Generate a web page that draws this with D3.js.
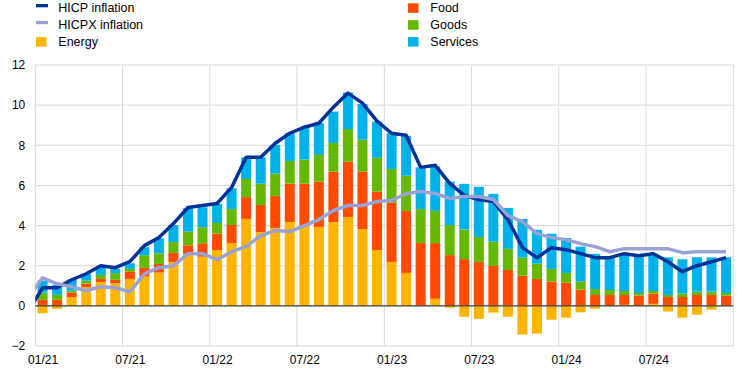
<!DOCTYPE html>
<html lang="en">
<head>
    <meta charset="UTF-8">
    <title>HICP inflation and contributions</title>
    <script src="https://cdn.jsdelivr.net/npm/d3@7"></script>
    <style>
        body { margin: 0; background: #fff; }
        svg { display: block; font-family: "Liberation Sans", Arial, sans-serif; }
        .tick text { font-size: 12px; fill: #000; }
        .legend text { font-size: 12.5px; fill: #000; }
    </style>
</head>
<body>
<div class="chart"></div>

<script type="text/javascript">
    // month labels (01/21 .. 12/24)
    var months = ["01/21","02/21","03/21","04/21","05/21","06/21","07/21","08/21","09/21","10/21","11/21","12/21",
                  "01/22","02/22","03/22","04/22","05/22","06/22","07/22","08/22","09/22","10/22","11/22","12/22",
                  "01/23","02/23","03/23","04/23","05/23","06/23","07/23","08/23","09/23","10/23","11/23","12/23",
                  "01/24","02/24","03/24","04/24","05/24","06/24","07/24","08/24","09/24","10/24","11/24","12/24"];
    var tickLabels = ["01/21","07/21","01/22","07/22","01/23","07/23","01/24","07/24"];
    var yTicks = [-2, 0, 2, 4, 6, 8, 10, 12];

    // contributions (percentage points)
    var energy = [-0.37,-0.14,0.44,0.93,1.19,1.13,1.34,1.46,1.66,2.19,2.59,2.45,
                  2.78,3.13,4.33,3.68,3.88,4.18,3.95,3.93,4.18,4.43,3.83,2.78,
                  2.19,1.64,0,0.35,-0.09,-0.54,-0.65,-0.34,-0.54,-1.43,-1.38,-0.69,
                  -0.59,-0.32,-0.14,0,0.05,0,0.1,-0.28,-0.59,-0.44,-0.19,0];
    var food = [0.3,0.3,0.22,0.18,0.15,0.17,0.36,0.43,0.43,0.45,0.43,0.67,
                0.82,0.9,1.09,1.35,1.6,1.91,2.14,2.26,2.51,2.75,2.86,2.91,
                2.95,3.09,3.13,2.78,2.53,2.33,2.19,1.99,1.79,1.51,1.34,1.21,
                1.16,0.81,0.54,0.54,0.49,0.51,0.51,0.44,0.44,0.54,0.54,0.51];
    var goods = [0.36,0.25,0.1,0.15,0.2,0.33,0.14,0.63,0.53,0.54,0.68,0.8,
                 0.53,0.8,0.9,1.06,1.11,1.13,1.2,1.33,1.42,1.63,1.59,1.69,
                 1.68,1.76,1.7,1.6,1.5,1.47,1.24,1.21,1.05,0.9,0.77,0.63,
                 0.48,0.4,0.3,0.25,0.2,0.13,0.13,0.1,0.17,0.17,0.17,0.13];
    var services = [0.6,0.5,0.54,0.34,0.4,0.22,0.28,0.4,0.75,0.85,1.16,0.99,
                    0.95,1.03,1.08,1.31,1.43,1.38,1.56,1.58,1.57,1.82,1.78,1.8,
                    1.78,1.98,2.07,2.21,2.16,2.28,2.5,2.38,2.04,1.92,1.68,1.75,
                    1.74,1.74,1.75,1.6,1.85,1.85,1.75,1.88,1.71,1.71,1.71,1.78];

    // headline and core rates (annual % change); lines start from 12/20, clipped at the axis
    var prevMonth = "12/20";
    var hicpPrev = -0.3, hicpxPrev = 0.4;
    var hicp = [0.9,0.9,1.3,1.6,2.0,1.9,2.2,3.0,3.4,4.1,4.9,5.0,
                5.1,5.9,7.4,7.4,8.1,8.6,8.9,9.1,9.9,10.6,10.1,9.2,
                8.6,8.5,6.9,7.0,6.1,5.5,5.3,5.2,4.3,2.9,2.4,2.9,
                2.8,2.6,2.4,2.4,2.6,2.5,2.6,2.2,1.7,2.0,2.2,2.4];
    var hicpx = [1.4,1.1,0.95,0.75,0.95,0.9,0.7,1.6,1.9,2.0,2.6,2.6,
                 2.3,2.7,2.95,3.5,3.75,3.7,4.0,4.3,4.75,5.0,5.0,5.2,
                 5.25,5.6,5.7,5.6,5.35,5.45,5.45,5.3,4.5,4.2,3.6,3.4,
                 3.3,3.1,2.95,2.7,2.85,2.85,2.85,2.85,2.65,2.7,2.7,2.7];

    var keys = ["energy", "food", "goods", "services"];
    var colors = {energy: "#ffb400", food: "#ff4b00", goods: "#65b800", services: "#00b1ea"};

    var w = 744, h = 373;
    var plotL = 35.3, plotR = 733.3, plotT = 65, plotB = 346;

    var svg = d3.select('.chart').append('svg')
            .attr('width', w)
            .attr('height', h);

    // index based scale so the 12/20 point can sit at -1
    var x = d3.scaleLinear().domain([-0.5, months.length - 0.5]).range([plotL, plotR]);
    var y = d3.scaleLinear().domain([-2, 12]).range([plotB, plotT]);
    var barW = 10;

    // grid
    svg.append('g').selectAll('line')
            .data(yTicks)
            .enter().append('line')
            .attr('x1', plotL).attr('x2', plotR)
            .attr('y1', function(d) { return y(d); })
            .attr('y2', function(d) { return y(d); })
            .attr('stroke', '#d9d9d9').attr('stroke-width', 1);

    var vLines = d3.range(0, months.length + 1, 6);
    svg.append('g').selectAll('line')
            .data(vLines)
            .enter().append('line')
            .attr('x1', function(d) { return x(d - 0.5); })
            .attr('x2', function(d) { return x(d - 0.5); })
            .attr('y1', plotT).attr('y2', plotB)
            .attr('stroke', '#d9d9d9').attr('stroke-width', 1);

    // y axis labels
    var yAxis = svg.append('g')
            .attr('transform', 'translate(' + plotL + ',0)')
            .call(d3.axisLeft(y).tickValues(yTicks).tickSize(0).tickPadding(10).tickFormat(d3.format('d')));
    yAxis.select('.domain').remove();

    // x axis labels
    var xAxis = svg.append('g')
            .attr('transform', 'translate(0,' + plotB + ')')
            .call(d3.axisBottom(x)
                .tickValues(tickLabels.map(function(t) { return months.indexOf(t); }))
                .tickSize(0).tickPadding(9)
                .tickFormat(function(i) { return months[i]; }));
    xAxis.select('.domain').remove();

    // stacked bars
    var table = months.map(function(m, i) {
        return {month: m, i: i, energy: energy[i], food: food[i], goods: goods[i], services: services[i]};
    });
    var series = d3.stack().keys(keys).offset(d3.stackOffsetDiverging)(table);

    svg.append('g').selectAll('g')
            .data(series)
            .enter().append('g')
            .attr('fill', function(d) { return colors[d.key]; })
            .selectAll('rect')
            .data(function(d) { return d; })
            .enter().append('rect')
            .attr('x', function(d) { return x(d.data.i) - barW / 2; })
            .attr('width', barW)
            .attr('y', function(d) { return y(Math.max(d[0], d[1])); })
            .attr('height', function(d) { return Math.abs(y(d[0]) - y(d[1])); });

    // zero line
    svg.append('line')
            .attr('x1', plotL).attr('x2', plotR)
            .attr('y1', y(0)).attr('y2', y(0))
            .attr('stroke', '#404040').attr('stroke-width', 1.2);

    // lines, clipped to the plot area
    svg.append('clipPath').attr('id', 'plot')
            .append('rect')
            .attr('x', plotL).attr('y', plotT)
            .attr('width', plotR - plotL).attr('height', plotB - plotT);

    var line = d3.line()
            .x(function(d) { return x(d[0]); })
            .y(function(d) { return y(d[1]); });

    function pts(prev, arr) {
        return [[-1, prev]].concat(arr.map(function(v, i) { return [i, v]; }));
    }

    var lines = svg.append('g').attr('clip-path', 'url(#plot)');
    lines.append('path')
            .attr('d', line(pts(hicpPrev, hicp)))
            .attr('fill', 'none').attr('stroke', '#003299')
            .attr('stroke-width', 3.5).attr('stroke-linejoin', 'round');
    lines.append('path')
            .attr('d', line(pts(hicpxPrev, hicpx)))
            .attr('fill', 'none').attr('stroke', '#98a2d4')
            .attr('stroke-width', 3.5).attr('stroke-linejoin', 'round');

    // legend
    var legend = svg.append('g').attr('class', 'legend');
    var leftItems = [
        {label: 'HICP inflation', type: 'line', color: '#003299'},
        {label: 'HICPX inflation', type: 'line', color: '#98a2d4'},
        {label: 'Energy', type: 'box', color: colors.energy}
    ];
    var rightItems = [
        {label: 'Food', type: 'box', color: colors.food},
        {label: 'Goods', type: 'box', color: colors.goods},
        {label: 'Services', type: 'box', color: colors.services}
    ];

    function drawLegend(items, x0) {
        items.forEach(function(d, i) {
            var base = 12.3 + i * 16.9;
            if (d.type === 'line') {
                legend.append('rect')
                        .attr('x', x0).attr('y', base - 8.3)
                        .attr('width', 12).attr('height', 3.3)
                        .attr('fill', d.color);
            } else {
                legend.append('rect')
                        .attr('x', x0).attr('y', base - 9)
                        .attr('width', 10.5).attr('height', 9.5)
                        .attr('fill', d.color);
            }
            legend.append('text')
                    .attr('x', x0 + 22.3).attr('y', base)
                    .text(d.label);
        });
    }
    drawLegend(leftItems, 36);
    drawLegend(rightItems, 408);
</script>
</body>
</html>
